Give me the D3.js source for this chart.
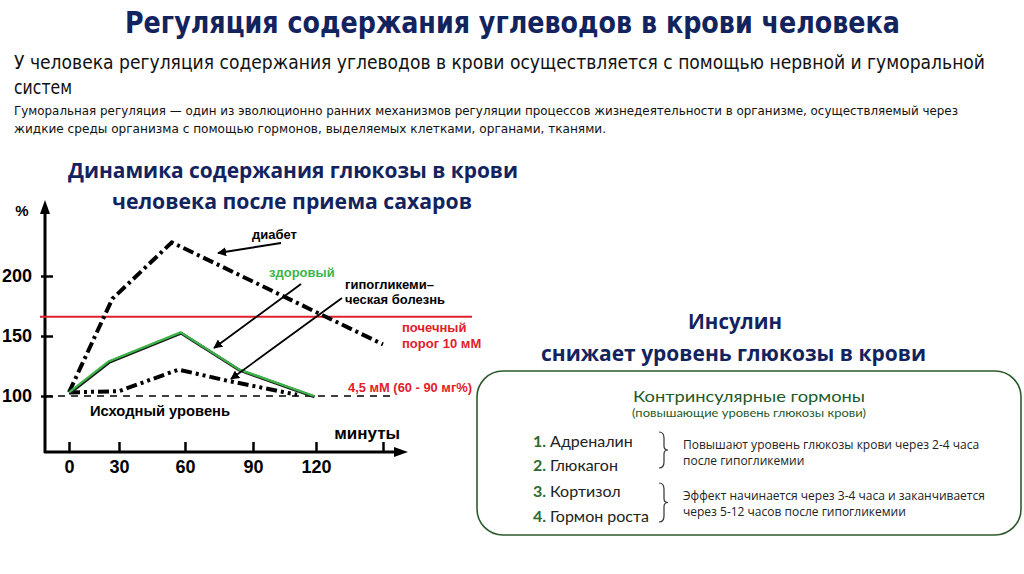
<!DOCTYPE html>
<html>
<head>
<meta charset="utf-8">
<script src="https://cdn.jsdelivr.net/npm/d3@7"></script>
<style>
  body { margin: 0; background: #fff; }
  svg { display: block; }
</style>
</head>
<body>
<svg id="slide" width="1024" height="574"></svg>
<script>
// --- data ---
let xTicks = [0, 30, 60, 90, 120, 150];
let xTickLabels = ["0", "30", "60", "90", "120", ""];
let yTicks = [100, 150, 200];

// [minutes, %]
let healthy  = [[0, 103], [24, 129], [58, 153], [84, 122], [119, 100]];
let diabetes = [[0, 103], [26, 181], [54, 228], [150, 143]];
let hypo     = [[0, 103], [30, 104], [57, 122], [78, 113], [111, 101]];
let baseLevel = 100;
let renalThreshold = 166;

let hormones = ["Адреналин", "Глюкагон", "Кортизол", "Гормон роста"];
let hormoneNotes = [
  ["Повышают уровень глюкозы крови через 2-4 часа", "после гипогликемии"],
  ["Эффект начинается через 3-4 часа и заканчивается", "через 5-12 часов после гипогликемии"]
];

let navy = "#13235e";
let red = "#e3202a";
let green = "#3cb54a";
let darkGreen = "#1f5a26";

let svg = d3.select("#slide");
svg.append("rect").attr("width", 1024).attr("height", 574).attr("fill", "#fff");

function txt(x, y, s, o) {
  o = o || {};
  let t = svg.append("text")
    .attr("x", x).attr("y", y)
    .attr("dominant-baseline", "central")
    .attr("text-anchor", o.anchor || "start")
    .style("font-family", o.family || "'Liberation Sans', Arial, sans-serif")
    .style("font-size", (o.size || 14) + "px")
    .style("font-weight", o.weight || "normal")
    .attr("fill", o.color || "#111")
    .text(s);
  if (o.len) t.attr("textLength", o.len).attr("lengthAdjust", "spacingAndGlyphs");
  return t;
}

// --- headings ---
let narrow = "'Liberation Sans Narrow', 'DejaVu Sans Condensed', 'Liberation Sans', sans-serif";
txt(125, 22, "Регуляция содержания углеводов в крови человека",
    {family: narrow, size: 30, weight: "bold", color: navy, len: 775});
txt(14, 62, "У человека регуляция содержания углеводов в крови осуществляется с помощью нервной и гуморальной",
    {family: narrow, size: 19, len: 971});
txt(14, 87, "систем", {family: narrow, size: 19, len: 58});
txt(14, 110, "Гуморальная регуляция — один из эволюционно ранних механизмов регуляции процессов жизнедеятельности в организме, осуществляемый через",
    {family: narrow, size: 13, len: 944});
txt(14, 128, "жидкие среды организма с помощью гормонов, выделяемых клетками, органами, тканями.",
    {family: narrow, size: 13, len: 592});

let open = "'Open Sans', 'Noto Sans', sans-serif";
txt(68, 170, "Динамика содержания глюкозы в крови", {family: open, size: 21, weight: "bold", color: navy, len: 450});
txt(112, 201, "человека после приема сахаров", {family: open, size: 21, weight: "bold", color: navy, len: 360});
txt(735, 321, "Инсулин", {family: open, size: 21, weight: "bold", color: navy, anchor: "middle", len: 94});
txt(541, 353, "снижает уровень глюкозы в крови", {family: open, size: 21, weight: "bold", color: navy, len: 385});

// --- chart ---
let x = d3.scaleLinear().domain(xTicks).range([69, 119, 185, 253, 316, 383]);
let y = d3.scaleLinear().domain([100, 200]).range([396, 276]);
let axisX0 = 45, axisY0 = 452;

let defs = svg.append("defs");
defs.append("marker").attr("id", "arr")
  .attr("viewBox", "0 0 10 10").attr("refX", 9).attr("refY", 5)
  .attr("markerWidth", 9).attr("markerHeight", 9).attr("orient", "auto")
  .attr("markerUnits", "userSpaceOnUse")
  .append("path").attr("d", "M0,0 L10,5 L0,10 z").attr("fill", "#000");

let chart = svg.append("g");

// axes
let yAxis = chart.append("g").attr("transform", "translate(" + axisX0 + ",0)")
  .call(d3.axisLeft(y).tickValues(yTicks).tickSizeInner(-8).tickSizeOuter(0).tickPadding(13));
yAxis.select(".domain").remove();
yAxis.selectAll("line").attr("x1", -4).attr("x2", 8).attr("stroke-width", 2.5);
yAxis.selectAll("text").style("font-family", "'Liberation Sans', Arial, sans-serif")
  .style("font-size", "18px").style("font-weight", "bold").attr("fill", "#000");

let xAxis = chart.append("g").attr("transform", "translate(0," + axisY0 + ")")
  .call(d3.axisBottom(x).tickValues(xTicks).tickFormat((d, i) => xTickLabels[i])
    .tickSizeInner(-10).tickSizeOuter(0).tickPadding(6));
xAxis.select(".domain").remove();
xAxis.selectAll("line").attr("stroke-width", 2.5);
xAxis.selectAll("text").style("font-family", "'Liberation Sans', Arial, sans-serif")
  .style("font-size", "18px").style("font-weight", "bold").attr("fill", "#000")
  .attr("y", 8);

chart.append("line").attr("x1", axisX0).attr("x2", axisX0).attr("y1", axisY0 + 1).attr("y2", 212)
  .attr("stroke", "#000").attr("stroke-width", 3);
chart.append("path").attr("d", "M" + axisX0 + ",200 L" + (axisX0 - 5) + ",214 L" + (axisX0 + 5) + ",214 z").attr("fill", "#000");
chart.append("line").attr("x1", axisX0 - 1).attr("x2", 396).attr("y1", axisY0).attr("y2", axisY0)
  .attr("stroke", "#000").attr("stroke-width", 3);
chart.append("path").attr("d", "M408," + axisY0 + " L394," + (axisY0 - 5) + " L394," + (axisY0 + 5) + " z").attr("fill", "#000");

txt(22, 210, "%", {size: 15, weight: "bold", anchor: "middle", color: "#000"});
txt(400, 433, "минуты", {size: 17, weight: "bold", anchor: "end", color: "#000"});

// baseline and renal threshold
chart.append("line").attr("x1", axisX0).attr("x2", 390)
  .attr("y1", y(baseLevel)).attr("y2", y(baseLevel))
  .attr("stroke", "#000").attr("stroke-width", 1.3).attr("stroke-dasharray", "7,6");
chart.append("line").attr("x1", 40).attr("x2", 472)
  .attr("y1", y(renalThreshold)).attr("y2", y(renalThreshold))
  .attr("stroke", red).attr("stroke-width", 2);

let line = d3.line().x(d => x(d[0])).y(d => y(d[1]));

chart.append("path").attr("d", line(diabetes)).attr("fill", "none")
  .attr("stroke", "#000").attr("stroke-width", 4).attr("stroke-dasharray", "11,4,3,4");
chart.append("path").attr("d", line(hypo)).attr("fill", "none")
  .attr("stroke", "#000").attr("stroke-width", 4).attr("stroke-dasharray", "11,4,3,4,3,4");
chart.append("path").attr("d", line(healthy)).attr("fill", "none")
  .attr("stroke", "#1a1a1a").attr("stroke-width", 3).attr("stroke-linejoin", "round")
  .attr("transform", "translate(0.6,0.8)");
chart.append("path").attr("d", line(healthy)).attr("fill", "none")
  .attr("stroke", green).attr("stroke-width", 2.3).attr("stroke-linejoin", "round");

txt(90, 410, "Исходный уровень", {size: 15, weight: "bold", color: "#000", len: 140});

// annotations
let notes = svg.append("g");
function arrow(x1, y1, x2, y2) {
  notes.append("line").attr("x1", x1).attr("y1", y1).attr("x2", x2).attr("y2", y2)
    .attr("stroke", "#000").attr("stroke-width", 1.8).attr("marker-end", "url(#arr)");
}
txt(252, 234, "диабет", {size: 13, weight: "bold", color: "#000"});
arrow(281, 243, 218, 253);
txt(269, 272, "здоровый", {size: 13, weight: "bold", color: green});
arrow(301, 284, 214, 348);
txt(345, 284, "гипогликеми–", {size: 13, weight: "bold", color: "#000"});
txt(345, 299, "ческая болезнь", {size: 13, weight: "bold", color: "#000"});
arrow(342, 298, 231, 379);
txt(402, 327, "почечный", {size: 13, weight: "bold", color: red});
txt(402, 343, "порог 10 мМ", {size: 13, weight: "bold", color: red});
txt(348, 387, "4,5 мМ (60 - 90 мг%)", {size: 13, weight: "bold", color: red, len: 124});

// --- counter-insular hormones box ---
let box = svg.append("g");
box.append("rect").attr("x", 477).attr("y", 371).attr("width", 544).attr("height", 164)
  .attr("rx", 26).attr("ry", 26).attr("fill", "#fff")
  .attr("stroke", "#2c5a2c").attr("stroke-width", 1.6);

let round = "'Lato', 'Noto Sans', sans-serif";
txt(749, 395, "Контринсулярные гормоны", {family: round, size: 16, color: darkGreen, anchor: "middle", len: 232});
txt(749, 412, "(повышающие уровень глюкозы крови)", {family: round, size: 12, color: darkGreen, anchor: "middle", len: 234});

let rowY = [440, 464, 490, 515];
hormones.forEach((h, i) => {
  txt(533, rowY[i], (i + 1) + ".", {family: round, size: 16, weight: "bold", color: "#2c6b2c"});
  txt(550, rowY[i], h, {family: round, size: 16, color: "#222"});
});

function brace(xb, y1, y2) {
  let m = (y1 + y2) / 2;
  box.append("path")
    .attr("d", "M" + xb + "," + y1 + " Q" + (xb + 5) + "," + y1 + " " + (xb + 5) + "," + (y1 + 6) +
      " L" + (xb + 5) + "," + (m - 4) + " Q" + (xb + 5) + "," + m + " " + (xb + 9) + "," + m +
      " Q" + (xb + 5) + "," + m + " " + (xb + 5) + "," + (m + 4) +
      " L" + (xb + 5) + "," + (y2 - 6) + " Q" + (xb + 5) + "," + y2 + " " + xb + "," + y2)
    .attr("fill", "none").attr("stroke", "#333").attr("stroke-width", 1.2);
}
brace(659, 432, 468);
brace(659, 483, 522);

hormoneNotes.forEach((lines, i) => {
  let y0 = i === 0 ? 444 : 495;
  lines.forEach((s, j) => {
    txt(683, y0 + j * 16, s, {family: open, size: 12, color: "#222"});
  });
});
</script>
</body>
</html>
